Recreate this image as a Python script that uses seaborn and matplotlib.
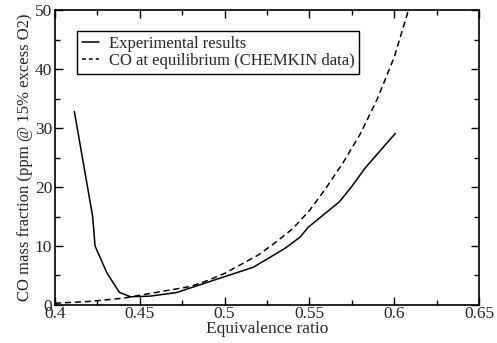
import matplotlib
matplotlib.use("Agg")
import matplotlib.pyplot as plt
import seaborn as sns
import pandas as pd
from matplotlib.ticker import MultipleLocator

# Measured CO emissions vs equivalence ratio
exp_phi = [0.4114, 0.4222, 0.4236, 0.4305, 0.4379, 0.4445, 0.456, 0.4715,
           0.5169, 0.5356, 0.5445, 0.5494, 0.5677, 0.575, 0.5828, 0.6007]
exp_co = [32.8, 15.0, 10.0, 5.5, 2.15, 1.4, 1.5, 2.1,
          6.4, 9.6, 11.5, 13.2, 17.5, 20.1, 23.2, 29.1]

# Equilibrium CO computed with CHEMKIN
eq_phi = [0.40, 0.42, 0.44, 0.45, 0.46, 0.48, 0.49, 0.50, 0.52, 0.53,
          0.54, 0.55, 0.56, 0.57, 0.58, 0.59, 0.60, 0.61]
eq_co = [0.3, 0.6, 1.15, 1.65, 2.15, 3.15, 4.15, 5.35, 8.5, 10.6,
         12.9, 16.0, 19.9, 24.2, 29.0, 34.9, 42.0, 51.5]

x_ticks = [0.4, 0.45, 0.5, 0.55, 0.6, 0.65]
x_tick_labels = ["0.4", "0.45", "0.5", "0.55", "0.6", "0.65"]
y_ticks = [0, 10, 20, 30, 40, 50]

sns.set_style("ticks")
plt.rcParams["font.family"] = ["Liberation Serif", "DejaVu Serif"]

df_exp = pd.DataFrame({"phi": exp_phi, "co": exp_co})
df_eq = pd.DataFrame({"phi": eq_phi, "co": eq_co})

fig = plt.figure(figsize=(4.97, 3.43), dpi=100)
ax = fig.add_axes([0.1107, 0.1108, 0.8531, 0.8600])

sns.lineplot(data=df_exp, x="phi", y="co", ax=ax, color="black", lw=1.1,
             sort=False, estimator=None, label="Experimental results")
sns.lineplot(data=df_eq, x="phi", y="co", ax=ax, color="black", lw=1.1,
             sort=False, estimator=None, label="CO at equilibrium (CHEMKIN data)")
ax.lines[1].set_dashes([4, 2.5])

ax.set_xlim(0.4, 0.65)
ax.set_ylim(0, 50)
ax.set_xticks(x_ticks)
ax.set_xticklabels(x_tick_labels)
ax.set_yticks(y_ticks)
ax.xaxis.set_minor_locator(MultipleLocator(0.025))
ax.yaxis.set_minor_locator(MultipleLocator(5))
ax.tick_params(which="both", direction="in", top=True, right=True,
               labelsize=12.5, color="black", width=1.0)
ax.tick_params(axis="x", which="major", length=6, pad=1)
ax.tick_params(axis="y", which="major", length=6, pad=2)
ax.tick_params(which="minor", length=3.5)
for s in ax.spines.values():
    s.set_linewidth(1.2)
    s.set_color("black")

ax.set_xlabel("Equivalence ratio", fontsize=12.5, labelpad=-1)
ax.set_ylabel("CO mass fraction (ppm @ 15% excess O2)", fontsize=12, labelpad=1)

leg = ax.legend(loc="upper left", bbox_to_anchor=(0.052, 0.929), borderaxespad=0,
                fancybox=False, framealpha=1, edgecolor="black", fontsize=12,
                handlelength=1.0, handletextpad=0.6, borderpad=0.3,
                labelspacing=0.05)
leg.get_frame().set_linewidth(1.0)
leg.legend_handles[1].set_dashes([2.5, 2])

fig.savefig("out.png", dpi=100)
